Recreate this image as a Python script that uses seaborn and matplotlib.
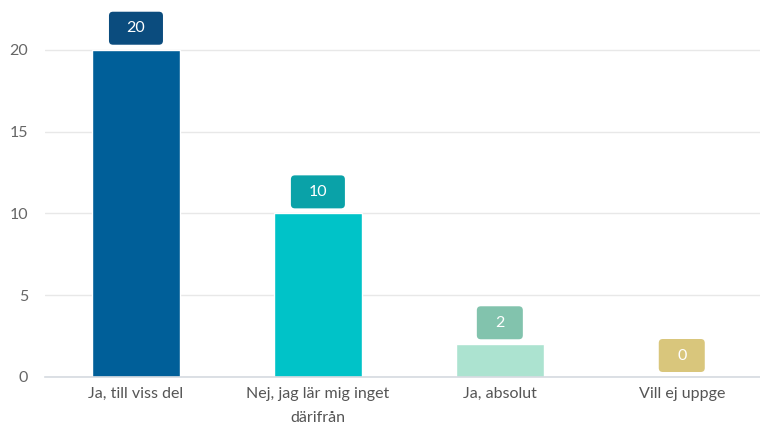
"""Survey answers as a bar chart with value boxes above each bar."""

import matplotlib

matplotlib.use("Agg")
import matplotlib.pyplot as plt
import pandas as pd
import seaborn as sns
from matplotlib.patches import FancyBboxPatch
from matplotlib.transforms import ScaledTranslation

categories = ["Ja, till viss del", "Nej, jag lär mig inget\ndärifrån", "Ja, absolut", "Vill ej uppge"]
values = [20, 10, 2, 0]
bar_colors = ["#005f99", "#00c3c8", "#ace3d0", "#e3d08a"]
box_colors = ["#0b4c7e", "#0aa2a8", "#82c3ad", "#d9c67c"]
y_ticks = [0, 5, 10, 15, 20]


def main() -> None:
    sns.set_theme(style="white")
    plt.rcParams["font.family"] = ["Lato", "DejaVu Sans"]

    data = pd.DataFrame({"answer": categories, "count": values})

    fig = plt.figure(figsize=(7.6, 4.26), dpi=100)
    ax = fig.add_axes([45 / 760, 49 / 426, 1 - 45 / 760, 360 / 426])

    sns.barplot(data=data, x="answer", y="count", hue="answer", palette=bar_colors,
                width=0.485, legend=False, ax=ax, saturation=1)

    ax.set_xlim(-0.5, 3.43)
    ax.set_ylim(0, 22)
    ax.set_yticks(y_ticks)
    ax.yaxis.grid(True, color="#e8e8e8", linewidth=1)
    ax.set_axisbelow(True)
    sns.despine(ax=ax, left=True, top=True, right=True)
    ax.spines["bottom"].set_color("#d5dae0")
    ax.spines["bottom"].set_linewidth(1.2)
    ax.set_xlabel("")
    ax.set_ylabel("")
    ax.tick_params(axis="y", length=0, pad=12, labelsize=11.5, labelcolor="#666666")
    ax.tick_params(axis="x", length=0, pad=7, labelsize=11.5, labelcolor="#555555")
    for label in ax.get_xticklabels():
        label.set_linespacing(1.9)
        label.set_verticalalignment("top")

    # value boxes, sized in pixels, sitting just above each bar
    for i, (v, c) in enumerate(zip(values, box_colors)):
        text = str(v)
        w = (38 + 8 * len(text)) / 100
        h = 33 / 100
        gap = 5 / 100
        trans = fig.dpi_scale_trans + ScaledTranslation(i, v, ax.transData)
        box = FancyBboxPatch((-w / 2, gap), w, h, boxstyle="round,pad=0,rounding_size=0.04",
                             facecolor=c, edgecolor="none", transform=trans, clip_on=False)
        ax.add_patch(box)
        ax.text(0, gap + h / 2, text, transform=trans, ha="center", va="center",
                color="white", fontsize=11.5, clip_on=False)

    fig.savefig("out.png", dpi=100)


if __name__ == "__main__":
    main()
